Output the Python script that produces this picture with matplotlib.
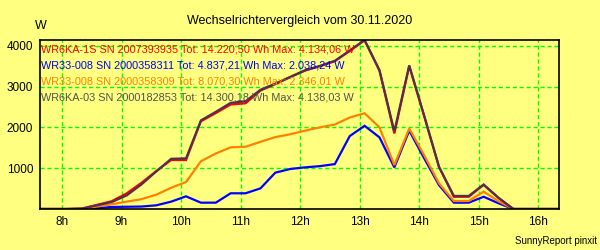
#!/usr/bin/env python3

import numpy as np
import matplotlib.pyplot as plt


# ==================================================
# Data
# ==================================================

times = [
    "07:35", "07:50", "08:05", "08:20", "08:35", "08:50", "09:05", "09:20", "09:35",
    "09:50", "10:05", "10:20", "10:35", "10:50", "11:05", "11:20", "11:35", "11:50",
    "12:05", "12:20", "12:35", "12:50", "13:05", "13:20", "13:35", "13:50", "14:05",
    "14:20", "14:35", "14:50", "15:05", "15:20", "15:35", "15:50", "16:05", "16:20",
]

wr6ka_1s = [
    0, 0, 0, 10, 100, 190, 380, 640, 930, 1200, 1200, 2150, 2350, 2560, 2590,
    2900, 3060, 3230, 3390, 3500, 3620, 3870, 4134, 3390, 1850, 3500, 2280,
    1030, 300, 300, 590, 270, 0, 0, 0, 0,
]

wr33_008_311 = [
    0, 0, 0, 0, 20, 50, 55, 60, 90, 180, 310, 155, 155, 385, 385,
    505, 890, 980, 1020, 1050, 1100, 1785, 2038, 1755, 1020, 1920, 1245,
    585, 155, 155, 300, 140, 0, 0, 0, 0,
]

wr33_008_309 = [
    0, 0, 0, 0, 60, 115, 180, 240, 350, 520, 660, 1170, 1360, 1510, 1525,
    1645, 1760, 1830, 1920, 2000, 2070, 2240, 2346, 2000, 1075, 1970, 1320,
    630, 195, 195, 425, 190, 0, 0, 0, 0,
]

wr6ka_03 = [
    0, 0, 0, 10, 90, 170, 330, 600, 920, 1230, 1240, 2170, 2380, 2600, 2640,
    2920, 3070, 3235, 3400, 3505, 3630, 3880, 4138, 3400, 1900, 3520, 2290,
    1035, 320, 320, 600, 275, 0, 0, 0, 0,
]

labels = [
    "WR6KA-1S SN 2007393935 Tot: 14.220,50 Wh Max: 4.134,06 W",
    "WR33-008 SN 2000358311 Tot: 4.837,21 Wh Max: 2.038,24 W",
    "WR33-008 SN 2000358309 Tot: 8.070,30 Wh Max: 2.346,01 W",
    "WR6KA-03 SN 2000182853 Tot: 14.300,18 Wh Max: 4.138,03 W",
]

hour_ticks = [8, 9, 10, 11, 12, 13, 14, 15, 16]
w_ticks = [1000, 2000, 3000, 4000]


# ==================================================
# Plot
# ==================================================

plt.rcParams["font.family"] = ["Liberation Sans", "DejaVu Sans"]

bg = "#FFFF80"
hours = [int(t[:2]) + int(t[3:]) / 60 for t in times]

fig = plt.figure(figsize=(6, 2.5), dpi=100, facecolor=bg)
ax = fig.add_axes([0.0667, 0.164, 0.865, 0.676])
ax.set_facecolor(bg)

series = [wr33_008_311, wr33_008_309, wr6ka_1s, wr6ka_03]
colors = ["#0000FF", "#FF8000", "#FF0000", "#503050"]

for vals, col in zip(series, colors):
    ax.plot(hours, vals, color=col, lw=1.6, solid_joinstyle="miter")

ax.set_xlim(7.63, 16.35)
ax.set_ylim(0, 4140)

ax.set_xticks(hour_ticks)
ax.set_xticklabels([f"{h}h" for h in hour_ticks])
ax.set_yticks(w_ticks)
ax.tick_params(length=0, labelsize=8.5, pad=5)
ax.grid(True, color="#00FF00", ls=(0, (3, 2)), lw=1)
ax.set_axisbelow(True)

for sp in ax.spines.values():
    sp.set_color("black")
    sp.set_linewidth(1.2)

# legend as coloured text lines
text_colors = ["#FF0000", "#0000FF", "#FF8000", "#505050"]
for i, (lab, col) in enumerate(zip(labels, text_colors)):
    ax.text(0.002, 0.975 - i * 0.096, lab, color=col, fontsize=7.8,
            transform=ax.transAxes, va="top", ha="left")

fig.text(0.5, 0.915, "Wechselrichtervergleich vom 30.11.2020",
         ha="center", va="center", fontsize=9)
fig.text(0.068, 0.895, "W", ha="center", va="center", fontsize=9)
fig.text(0.995, 0.036, "SunnyReport pinxit", ha="right", va="center", fontsize=7)

fig.savefig("out.png", dpi=100, facecolor=bg)
plt.close()
